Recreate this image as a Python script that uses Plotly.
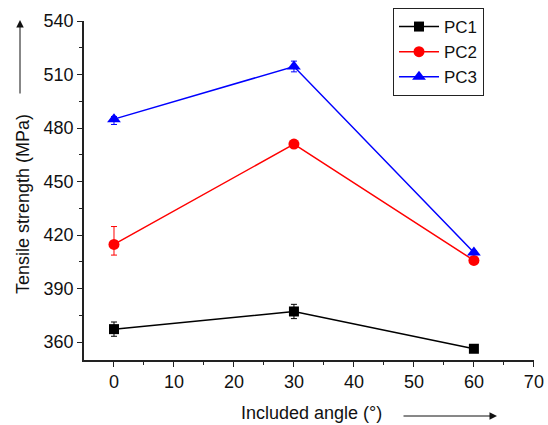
import plotly.graph_objects as go

angles = [0, 30, 60]
pc1 = [367.3, 377.2, 356.3]
pc1_err_plus = [4, 4, 1]
pc1_err_minus = [4, 4, 1]
pc2 = [414.8, 471.0, 405.8]
pc2_err_plus = [10, 1, 1]
pc2_err_minus = [6, 1, 1]
pc3 = [485.0, 514.5, 410.2]
pc3_err_plus = [1.5, 3, 1]
pc3_err_minus = [3, 3, 1]

series = [
    ("PC1", pc1, pc1_err_plus, pc1_err_minus, "black", "square", 10),
    ("PC2", pc2, pc2_err_plus, pc2_err_minus, "red", "circle", 11),
    ("PC3", pc3, pc3_err_plus, pc3_err_minus, "blue", "triangle-up", 12),
]

fig = go.Figure()
for name, vals, ep, em, col, sym, sz in series:
    fig.add_trace(go.Scatter(
        x=angles, y=vals, name=name, mode="lines+markers",
        line=dict(color=col, width=1.5),
        marker=dict(color=col, symbol=sym, size=sz, line=dict(width=0)),
        error_y=dict(type="data", symmetric=False, array=ep, arrayminus=em,
                     color=col, thickness=1, width=3),
    ))

font = dict(family="Liberation Sans, Arial, sans-serif", size=18, color="#111")

PW = 548 - 84 - 14  # plot width in px
PH = 425 - 21 - 65  # plot height in px

fig.update_layout(
    width=548, height=425,
    margin=dict(l=84, r=14, t=21, b=65, autoexpand=False),
    paper_bgcolor="white", plot_bgcolor="white",
    font=font,
    showlegend=True,
    legend=dict(x=(393-84)/PW, y=(360-8)/PH, xanchor="left", yanchor="top",
                bordercolor="#222", borderwidth=1, bgcolor="white",
                font=dict(size=17), tracegroupgap=0, itemwidth=40),
    xaxis=dict(range=[-5, 70.02], tickvals=[0, 10, 20, 30, 40, 50, 60, 70],
               showline=True, linecolor="#222", linewidth=1.5,
               ticks="outside", ticklen=5, tickcolor="#222", tickwidth=1.2,
               ticklabeloverflow="allow",
               minor=dict(tickvals=[5, 15, 25, 35, 45, 55, 65], ticks="outside", ticklen=3, tickcolor="#222"),
               showgrid=False, zeroline=False, mirror=False, automargin=False),
    yaxis=dict(range=[350, 540], tickvals=[360, 390, 420, 450, 480, 510, 540],
               showline=True, linecolor="#222", linewidth=1.5,
               ticks="outside", ticklen=5, tickcolor="#222", tickwidth=1.2,
               minor=dict(tickvals=[375, 405, 435, 465, 495, 525], ticks="outside", ticklen=3, tickcolor="#222"),
               showgrid=False, zeroline=False, mirror=False, automargin=False),
)

# axis titles as annotations
fig.add_annotation(text="Tensile strength (MPa)", xref="paper", yref="paper",
                   x=(23-84)/PW, y=(360-204)/PH, xanchor="center", yanchor="middle",
                   textangle=-90, showarrow=False, font=dict(size=18))
fig.add_annotation(text="Included angle (°)", xref="paper", yref="paper",
                   x=(311-84)/PW, y=-(413-360)/PH, xanchor="center", yanchor="middle",
                   showarrow=False, font=dict(size=18))
# arrows (decoration)
fig.add_annotation(xref="paper", yref="paper",
                   x=(20-84)/PW, y=(360-20)/PH, ax=0, ay=75,
                   showarrow=True, arrowhead=2, arrowsize=1.5, arrowwidth=1, arrowcolor="#111", text="")
fig.add_annotation(xref="paper", yref="paper",
                   x=(497-84)/PW, y=-(416-360)/PH, ax=-95, ay=0,
                   showarrow=True, arrowhead=2, arrowsize=1.5, arrowwidth=1, arrowcolor="#111", text="")

fig.write_html("out.html")
